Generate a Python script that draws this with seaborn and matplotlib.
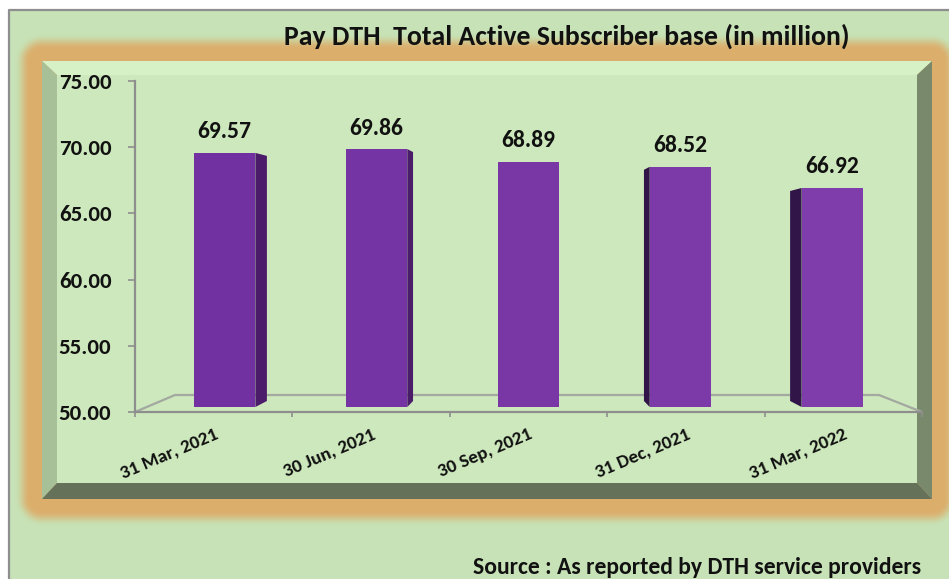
import os
import numpy as np
import pandas as pd
import matplotlib
matplotlib.use("Agg")
import matplotlib.pyplot as plt
import seaborn as sns
from matplotlib import font_manager as fm
from matplotlib.colors import to_rgb
from matplotlib.patches import Polygon

# ---- data -------------------------------------------------------------
quarters = ["31 Mar, 2021", "30 Jun, 2021", "30 Sep, 2021", "31 Dec, 2021", "31 Mar, 2022"]
subscribers = [69.57, 69.86, 68.89, 68.52, 66.92]
y_ticks = [50, 55, 60, 65, 70, 75]
title = "Pay DTH  Total Active Subscriber base (in million)"
source = "Source : As reported by DTH service providers"


# ---- fonts ------------------------------------------------------------
def find_bold_font():
    files = {os.path.basename(f).lower(): f for f in fm.findSystemFonts()}
    for name in ["carlito-bold.ttf", "lato-bold.ttf", "opensans-bold.ttf",
                 "notosans-bold.ttf", "liberationsans-bold.ttf"]:
        if name in files:
            return files[name]
    return None


BOLD_FILE = find_bold_font()


def bold(size):
    if BOLD_FILE:
        return fm.FontProperties(fname=BOLD_FILE, size=size)
    return fm.FontProperties(family="DejaVu Sans", weight="bold", size=size)


# ---- canvas -----------------------------------------------------------
W, H = 949, 579
sns.set_theme(style="white")
plt.rcParams["font.family"] = ["Lato", "DejaVu Sans"]

fig = plt.figure(figsize=(W / 100, H / 100), dpi=100)
fig.patch.set_facecolor("white")

# background layer in pixel coordinates
bg = fig.add_axes([0, 0, 1, 1])
bg.axis("off")

green = np.array(to_rgb("#c7e2b6"))
orange = np.array(to_rgb("#dcae6b"))
yy, xx = np.mgrid[0:H, 0:W] + 0.5
img = np.ones((H, W, 3))
inside = (xx >= 9) & (yy >= 10)
img[inside] = green

# soft orange glow around the inner panel
px0, px1, py0, py1 = 42, 932, 61, 499
ddx = np.maximum(np.maximum(px0 - xx, xx - px1), 0)
ddy = np.maximum(np.maximum(py0 - yy, yy - py1), 0)
dist = np.hypot(ddx, ddy)
t = np.clip((dist - 12) / 15, 0, 1)
alpha = (1 - t * t * (3 - 2 * t)) * inside
img = img * (1 - alpha[..., None]) + orange * alpha[..., None]
bg.imshow(img, extent=(0, W, H, 0), interpolation="bilinear", aspect="auto")

# outer frame line
bg.plot([9, 9, W], [H, 10, 10], color="#8e8e8e", lw=1.6, solid_capstyle="butt")

# bevelled panel
bx0, bx1, by0, by1 = 57, 917, 75, 483
bevels = [
    ([(px0, py0), (px1, py0), (bx1, by0), (bx0, by0)], "#d6f1c5"),
    ([(px0, py0), (bx0, by0), (bx0, by1), (px0, py1)], "#a7c097"),
    ([(px1, py0), (px1, py1), (bx1, by1), (bx1, by0)], "#788a6b"),
    ([(px0, py1), (px1, py1), (bx1, by1), (bx0, by1)], "#66715a"),
]
for pts, col in bevels:
    bg.add_patch(Polygon(pts, closed=True, facecolor=col, edgecolor="none"))
bg.add_patch(Polygon([(bx0, by0), (bx1, by0), (bx1, by1), (bx0, by1)],
                     closed=True, facecolor="#cde8bc", edgecolor="none"))

# floor of the 3-D plot area
ax_l, ax_r, ax_t, ax_b = 135, 922, 81, 412
floor_col = "#a3a8a0"
bg.plot([ax_l, 175, 879, ax_r], [ax_b, 395, 395, ax_b], color=floor_col, lw=1.6)

bg.set_xlim(0, W)
bg.set_ylim(H, 0)

# ---- chart axes ---------------------------------------------------------
ax = fig.add_axes([ax_l / W, 1 - ax_b / H, (ax_r - ax_l) / W, (ax_b - ax_t) / H])
ax.patch.set_alpha(0)

df = pd.DataFrame({"quarter": quarters, "subscribers": subscribers})
sns.barplot(data=df, x="quarter", y="subscribers", color="#7737a4",
            saturation=1, width=0.39, ax=ax, zorder=3)

ax.set_xlim(-0.5, len(quarters) - 0.5)
ax.set_ylim(y_ticks[0], y_ticks[-1])

sx = (ax_r - ax_l) / len(quarters)               # pixels per category
sy = (ax_b - ax_t) / (y_ticks[-1] - y_ticks[0])  # pixels per unit
mid = (len(quarters) - 1) / 2
floor = y_ticks[0] + 5 / sy

# lighting: fronts get slightly brighter towards the right
front_l, front_r = np.array(to_rgb("#7131a0")), np.array(to_rgb("#7e3dab"))

for i, (bar, val) in enumerate(zip(ax.patches, subscribers)):
    f = i / (len(quarters) - 1)
    bar.set_facecolor(front_l * (1 - f) + front_r * f)
    shift = -5.5 * (i - mid) / sx
    bar.set_x(bar.get_x() + shift)
    bar.set_y(floor)
    bar.set_height(val - floor)
    bar.set_edgecolor("none")
    x, w = bar.get_x(), bar.get_width()
    depth = -5.75 * (i - mid) / sx
    if depth != 0:
        edge = x + w if depth > 0 else x
        side_col = "#4a1c6a" if depth > 0 else "#311548"
        side = Polygon([(edge, floor), (edge, val),
                        (edge + depth, val - 3 / sy), (edge + depth, floor + 6 / sy)],
                       closed=True, facecolor=side_col, edgecolor="none", zorder=3)
        ax.add_patch(side)
    ax.annotate(f"{val:.2f}", (x + w / 2, val), xytext=(0, 21),
                textcoords="offset pixels", ha="center", va="center",
                fontproperties=bold(17), color="#111111")

# y axis
ax.set_yticks(y_ticks)
ax.set_yticklabels([f"{v:.2f}" for v in y_ticks])
ax.tick_params(axis="y", left=True, length=5, width=1.2, color="#8e8e8e",
               pad=12, labelcolor="#111111")
for lab in ax.get_yticklabels():
    lab.set_fontproperties(bold(16.5))

# x axis: tick marks at category boundaries, labels at centres
ax.set_xticks(range(len(quarters)))
ax.set_xticklabels(quarters, rotation=23, ha="right", va="top",
                   rotation_mode="anchor")
ax.set_xticks(np.arange(-0.5, len(quarters)), minor=True)
ax.tick_params(axis="x", which="major", bottom=True, length=0, pad=10,
               labelcolor="#111111")
ax.tick_params(axis="x", which="minor", bottom=True, length=3.5, width=1.2,
               color="#8e8e8e")
for lab in ax.get_xticklabels():
    lab.set_fontproperties(bold(13.8))
ax.set_xlabel("")
ax.set_ylabel("")

for s in ["top", "right"]:
    ax.spines[s].set_visible(False)
for s in ["left", "bottom"]:
    ax.spines[s].set_color("#8e8e8e")
    ax.spines[s].set_linewidth(1.6)

# ---- texts ------------------------------------------------------------
fig.text(567 / W, 1 - 45 / H, title, ha="center", va="baseline",
         fontproperties=bold(20), color="#111111")
fig.text(697 / W, 1 - 574 / H, source, ha="center", va="baseline",
         fontproperties=bold(17), color="#111111")

fig.savefig("out.png", dpi=100)
